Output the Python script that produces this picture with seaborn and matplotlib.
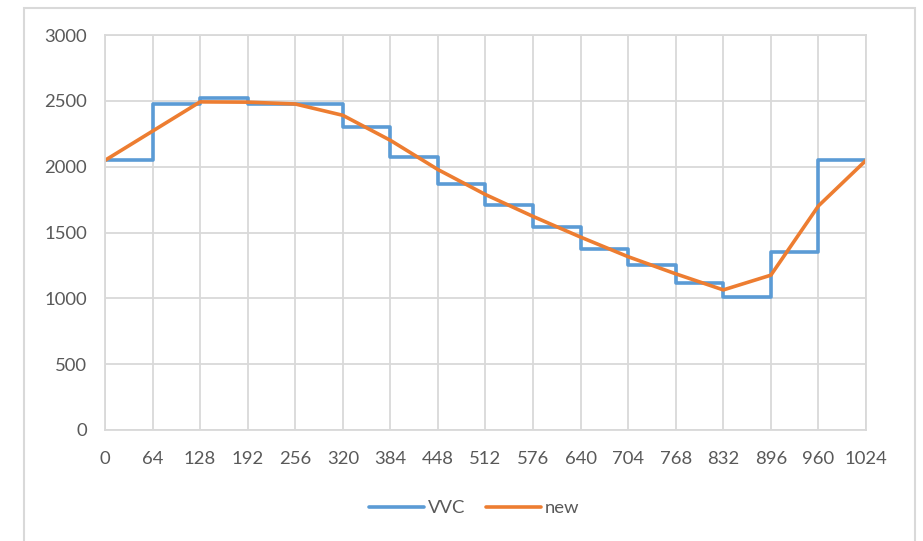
import pandas as pd
import seaborn as sns
import matplotlib.pyplot as plt
from matplotlib.patches import Rectangle

# x positions (0 .. 1024, step 64)
x_pos = [0, 64, 128, 192, 256, 320, 384, 448, 512, 576, 640, 704, 768, 832, 896, 960, 1024]

# VVC: step values, each held until the next x position
vvc = [2048, 2476, 2520, 2478, 2478, 2300, 2073, 1866, 1706, 1540, 1378, 1250, 1114, 1008, 1350, 2048, 2048]

# new: piecewise-linear curve
new = [2048, 2270, 2492, 2490, 2476, 2390, 2200, 1978, 1788, 1622, 1465, 1316, 1186, 1064, 1176, 1702, 2048]

df = pd.DataFrame({'x': x_pos, 'VVC': vvc, 'new': new})

sns.set_style('white')
plt.rcParams['font.family'] = ['Lato', 'DejaVu Sans']

fig = plt.figure(figsize=(9.23, 5.41), dpi=100)
ax = fig.add_axes([105 / 923, 1 - 430 / 541, (866 - 105) / 923, (430 - 35) / 541])

grid_col = '#d9d9d9'

# Chart frame around everything
fig.patches.append(Rectangle((24 / 923, -0.02), (915 - 24) / 923, (541 - 8) / 541 + 0.02,
                             transform=fig.transFigure, fill=False,
                             edgecolor=grid_col, linewidth=1.5))

sns.lineplot(data=df, x='x', y='VVC', ax=ax, color='#5B9BD5', linewidth=2.6,
             drawstyle='steps-post', label='VVC')
sns.lineplot(data=df, x='x', y='new', ax=ax, color='#ED7D31', linewidth=2.6,
             label='new')

ax.set_xlim(0, 1024)
ax.set_ylim(0, 3000)
ax.set_xticks(x_pos)
ax.set_yticks(range(0, 3001, 500))
ax.set_xlabel('')
ax.set_ylabel('')
ax.grid(True, color=grid_col, linewidth=1.3)
ax.set_axisbelow(True)
for s in ax.spines.values():
    s.set_color(grid_col)
    s.set_linewidth(1.3)
ax.tick_params(axis='both', length=0, labelsize=13.3, labelcolor='#595959')
ax.tick_params(axis='y', pad=13)
ax.tick_params(axis='x', pad=15)

leg = ax.legend(loc='center', bbox_to_anchor=(474 / 923, 1 - 508 / 541),
                bbox_transform=fig.transFigure, ncol=2, frameon=False,
                fontsize=13.3, handlelength=3.0, handletextpad=0.2, columnspacing=1.1)
for t in leg.get_texts():
    t.set_color('#595959')

fig.savefig('out.png', dpi=100)
